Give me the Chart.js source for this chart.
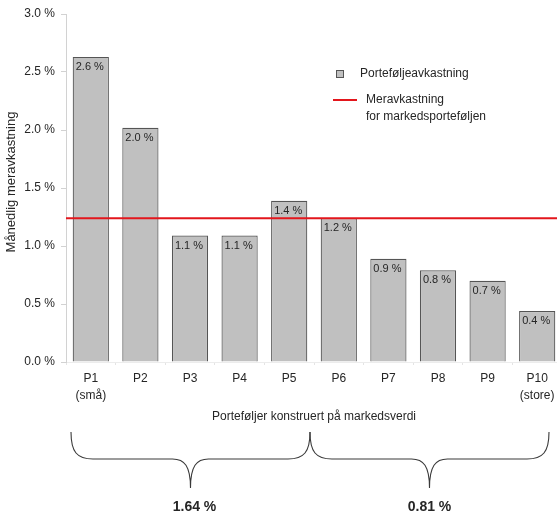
<!DOCTYPE html>
<html lang="no">
<head>
<meta charset="utf-8">
<title>Månedlig meravkastning for porteføljer konstruert på markedsverdi</title>
<script src="https://cdn.jsdelivr.net/npm/chart.js@4.4.0/dist/chart.umd.min.js"></script>
<style>
  html, body { margin: 0; padding: 0; background: #ffffff; overflow: hidden; }
  body { width: 557px; height: 514px; }
  canvas { display: block; }
</style>
</head>
<body>
<canvas id="chart" width="562" height="514"></canvas>
<script>
// Portfolios sorted on market value, P1 (small) to P10 (large)
const portfolios = ['P1', 'P2', 'P3', 'P4', 'P5', 'P6', 'P7', 'P8', 'P9', 'P10'];
const portfolioNotes = ['(små)', '', '', '', '', '', '', '', '', '(store)'];

// Monthly excess return per portfolio, in percent
const portfolioReturns = [2.63, 2.02, 1.09, 1.09, 1.39, 1.24, 0.89, 0.79, 0.70, 0.44];

// Excess return of the market portfolio, in percent
const marketExcess = [1.24];

// Average excess return for the small (P1–P5) and large (P6–P10) halves
const halfAverages = [1.64, 0.81];
const halfAverageLabels = halfAverages.map(v => v.toFixed(2) + ' %');

// Y axis tick values
const yTicks = [0.0, 0.5, 1.0, 1.5, 2.0, 2.5, 3.0];

const seriesBarName = 'Porteføljeavkastning';
const seriesLineName = ['Meravkastning', 'for markedsporteføljen'];
const yTitle = 'Månedlig meravkastning';
const xTitle = 'Porteføljer konstruert på markedsverdi';

const FONT = '"Liberation Sans", Arial, Helvetica, sans-serif';
const TEXT = '#262626';
const BAR_FILL = '#c0c0c0';
const BAR_EDGE = '#555555';
const RED = '#e3161c';

const xLabels = portfolios.map((p, i) => portfolioNotes[i] ? [p, portfolioNotes[i]] : p);

// Value labels inside the top of each bar
const barValueLabels = {
  id: 'barValueLabels',
  afterDatasetsDraw(chart) {
    const ctx = chart.ctx;
    const meta = chart.getDatasetMeta(0);
    ctx.save();
    ctx.font = '11px ' + FONT;
    ctx.fillStyle = TEXT;
    ctx.textAlign = 'center';
    ctx.textBaseline = 'middle';
    meta.data.forEach((bar, i) => {
      const v = chart.data.datasets[0].data[i];
      ctx.fillText(v.toFixed(1) + ' %', bar.x - 1, bar.y + 10);
    });
    ctx.restore();
  }
};

// Axis titles, legend, and the braces with the half averages
const annotations = {
  id: 'annotations',
  afterDraw(chart) {
    const ctx = chart.ctx;
    const area = chart.chartArea;
    const x = chart.scales.x;
    ctx.save();

    // y axis title
    ctx.save();
    ctx.translate(11, 182);
    ctx.rotate(-Math.PI / 2);
    ctx.font = '13px ' + FONT;
    ctx.fillStyle = TEXT;
    ctx.textAlign = 'center';
    ctx.textBaseline = 'middle';
    ctx.fillText(yTitle, 0, 0);
    ctx.restore();

    // x axis title
    ctx.font = '12px ' + FONT;
    ctx.fillStyle = TEXT;
    ctx.textAlign = 'center';
    ctx.textBaseline = 'middle';
    ctx.fillText(xTitle, (area.left + area.right) / 2, 417);

    // legend
    const ds = chart.data.datasets;
    ctx.fillStyle = ds[0].backgroundColor;
    ctx.fillRect(336.5, 70.5, 7, 7);
    ctx.strokeStyle = ds[0].borderColor;
    ctx.lineWidth = 1;
    ctx.strokeRect(336.5, 70.5, 7, 7);
    ctx.fillStyle = TEXT;
    ctx.textAlign = 'left';
    ctx.fillText(seriesBarName, 360, 74);
    ctx.strokeStyle = ds[1].borderColor;
    ctx.lineWidth = 2;
    ctx.beginPath();
    ctx.moveTo(333, 100);
    ctx.lineTo(357, 100);
    ctx.stroke();
    ctx.fillStyle = TEXT;
    ctx.fillText(seriesLineName[0], 366, 100);
    ctx.fillText(seriesLineName[1], 366, 117);

    // braces under the two halves
    const yTop = 432, yMid = 459, yTip = 488;
    const left = x.getPixelForValue(-0.5) + 5;
    const join = x.getPixelForValue(4.5) - 4;
    const right = join + (join - left);
    ctx.strokeStyle = '#3a3a3a';
    ctx.lineWidth = 1.1;
    const brace = (a, b) => {
      const tip = (a + b) / 2;
      ctx.beginPath();
      ctx.moveTo(a, yTop);
      ctx.bezierCurveTo(a, yMid - 7, a + 6, yMid, a + 22, yMid);
      ctx.lineTo(tip - 18, yMid);
      ctx.bezierCurveTo(tip - 6, yMid, tip, yMid + 7, tip, yTip);
      ctx.bezierCurveTo(tip, yMid + 7, tip + 6, yMid, tip + 18, yMid);
      ctx.lineTo(b - 22, yMid);
      ctx.bezierCurveTo(b - 6, yMid, b, yMid - 7, b, yTop);
      ctx.stroke();
      return tip;
    };
    const tips = [brace(left, join), brace(join, right)];

    ctx.font = 'bold 14px ' + FONT;
    ctx.fillStyle = TEXT;
    ctx.textAlign = 'center';
    ctx.textBaseline = 'middle';
    halfAverageLabels.forEach((t, i) => ctx.fillText(t, tips[i] + (i === 0 ? 4 : 0), 507));

    ctx.restore();
  }
};

new Chart(document.getElementById('chart'), {
  data: {
    labels: xLabels,
    datasets: [
      {
        type: 'bar',
        label: seriesBarName,
        data: portfolioReturns,
        backgroundColor: BAR_FILL,
        borderColor: BAR_EDGE,
        borderWidth: 1.2,
        barPercentage: 0.73,
        categoryPercentage: 1,
        grouped: false,
        order: 2
      },
      {
        type: 'line',
        label: seriesLineName.join(' '),
        xAxisID: 'xLine',
        data: [{ x: -0.5, y: marketExcess[0] }, { x: portfolios.length - 0.5, y: marketExcess[0] }],
        borderColor: RED,
        borderWidth: 2,
        pointRadius: 0,
        fill: false,
        order: 1
      }
    ]
  },
  options: {
    responsive: false,
    animation: false,
    devicePixelRatio: 1,
    layout: { padding: { top: 14, left: 0, right: 0, bottom: 0 } },
    plugins: {
      legend: { display: false },
      tooltip: { enabled: false }
    },
    scales: {
      x: {
        type: 'category',
        offset: true,
        grid: { display: true, drawOnChartArea: false, drawTicks: true, tickLength: 3, color: '#e4e4e4', offset: true },
        border: { display: true, color: '#ececec' },
        ticks: {
          font: { family: FONT, size: 12, lineHeight: 1.42 },
          color: TEXT,
          padding: 5,
          maxRotation: 0,
          autoSkip: false
        },
        afterFit(scale) { scale.height = 152; }
      },
      xLine: {
        type: 'linear',
        display: false,
        min: -0.5,
        max: portfolios.length - 0.5
      },
      y: {
        min: yTicks[0],
        max: yTicks[yTicks.length - 1],
        afterBuildTicks(scale) { scale.ticks = yTicks.map(v => ({ value: v })); },
        grid: { display: true, drawOnChartArea: false, drawTicks: true, tickLength: 5, color: '#d2d2d2' },
        border: { display: true, color: '#d2d2d2' },
        ticks: {
          font: { family: FONT, size: 12 },
          color: TEXT,
          padding: 6,
          callback: v => v.toFixed(1) + ' %'
        },
        afterFit(scale) { scale.width = 66; }
      }
    }
  },
  plugins: [barValueLabels, annotations]
});
</script>
</body>
</html>
